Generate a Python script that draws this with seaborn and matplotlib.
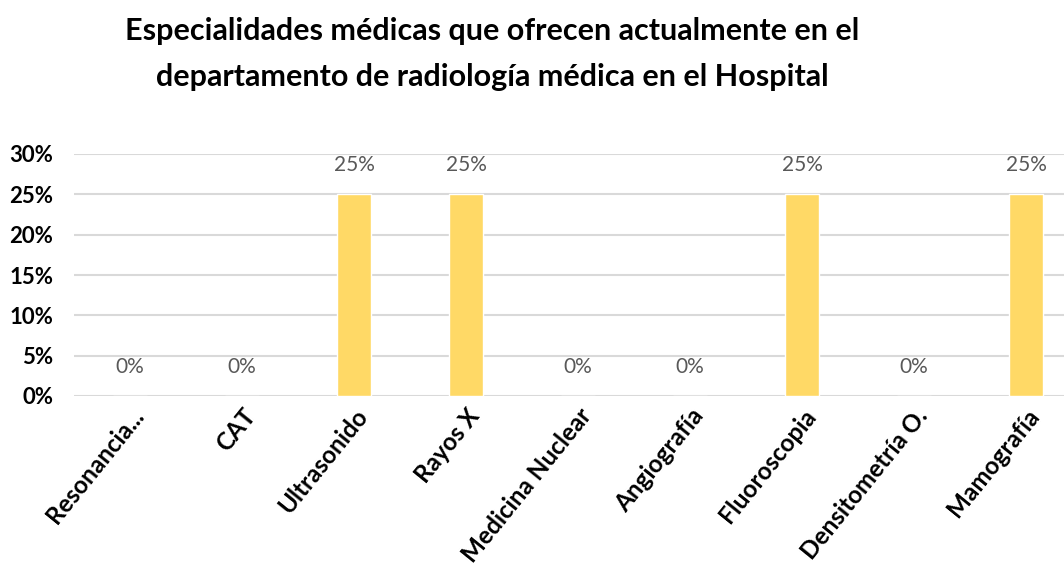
import matplotlib
matplotlib.use("Agg")
import matplotlib.pyplot as plt
import seaborn as sns
import pandas as pd
from matplotlib.ticker import FuncFormatter

categories = ["Resonancia...", "CAT", "Ultrasonido", "Rayos X", "Medicina Nuclear",
              "Angiografía", "Fluoroscopia", "Densitometría O.", "Mamografía"]
values = [0.0, 0.0, 0.25, 0.25, 0.0, 0.0, 0.25, 0.0, 0.25]
title = "Especialidades médicas que ofrecen actualmente en el\ndepartamento de radiología médica en el Hospital"

sns.set_theme(style="white")
plt.rcParams["font.family"] = ["Lato", "DejaVu Sans"]

df = pd.DataFrame({"cat": categories, "val": values})

fig = plt.figure(figsize=(10.64, 5.76), dpi=100)
ax = fig.add_axes([74/1064, 180/576, 1008/1064, 242/576])
sns.barplot(data=df, x="cat", y="val", color="#FFD966", width=0.3, ax=ax, saturation=1)

ax.set_ylim(0, 0.30)
ax.set_yticks([0, 0.05, 0.10, 0.15, 0.20, 0.25, 0.30])
ax.yaxis.set_major_formatter(FuncFormatter(lambda v, p: f"{v*100:.0f}%"))
ax.yaxis.grid(True, color="#D9D9D9", linewidth=1.5)
ax.set_axisbelow(True)
for s in ax.spines.values():
    s.set_visible(False)
ax.set_xlabel("")
ax.set_ylabel("")
ax.tick_params(axis="y", length=0, pad=15, labelsize=16)
ax.tick_params(axis="x", length=0, pad=6, labelsize=17.5)
for lab in ax.get_yticklabels():
    lab.set_fontweight("bold")
    lab.set_color("black")
for lab in ax.get_xticklabels():
    lab.set_rotation(51)
    lab.set_ha("right")
    lab.set_va("top")
    lab.set_rotation_mode("anchor")
    lab.set_fontweight("bold")
    lab.set_color("black")

for c in ax.containers:
    ax.bar_label(c, labels=[f"{v*100:.0f}%" for v in values], padding=14,
                 color="#595959", fontsize=15)

fig.text(492/1064, 1 - 54/576, title, ha="center", va="center", fontsize=22,
         fontweight="bold", linespacing=1.75, color="black")

fig.savefig("out.png", dpi=100)
